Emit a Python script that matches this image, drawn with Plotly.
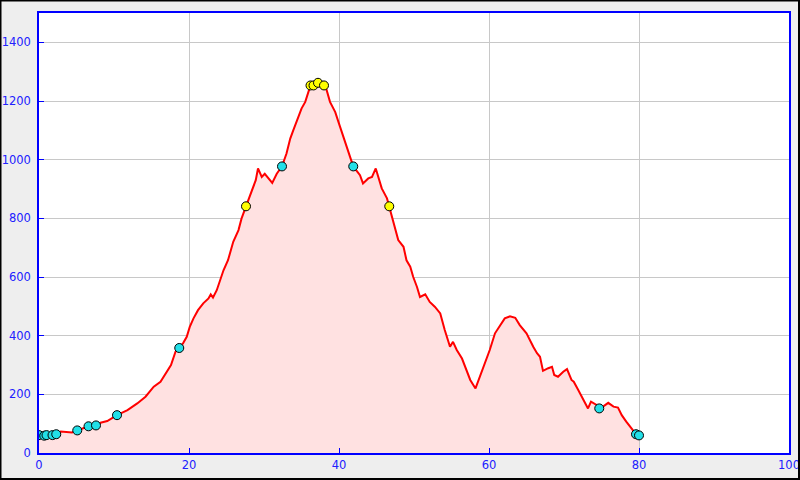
import plotly.graph_objects as go

# Elevation profile (distance km, elevation m)
dist = [0, 0.7, 1.0, 1.8, 2.3, 2.9, 4.4, 5.1, 5.8, 6.6, 7.6, 8.2, 9.1, 10.4, 11.8, 13.1, 14.2, 14.7,
        15.3, 16.2, 16.9, 17.6, 18.2, 18.7, 19.2, 19.7, 20.1, 20.6, 21.2, 21.9, 22.6, 22.9, 23.2, 23.7,
        24.1, 24.6, 25.2, 25.9, 26.6, 27.0, 27.6, 28.1, 28.6, 28.9, 29.2, 29.7, 30.1, 30.6, 31.1, 31.7,
        32.4, 33.0, 33.5, 33.9, 34.4, 35.0, 35.5, 35.9, 36.2, 36.6, 37.2, 38.0, 38.3, 38.8, 39.5, 40.0,
        40.6, 41.2, 41.9, 42.8, 43.2, 43.9, 44.4, 44.9, 45.2, 45.7, 46.4, 46.7, 47.2, 47.9, 48.6, 49.0,
        49.5, 49.9, 50.4, 50.8, 51.5, 52.1, 52.8, 53.5, 54.1, 54.8, 55.2, 55.7, 56.4, 57.0, 57.5, 58.2,
        58.8, 59.5, 60.1, 60.8, 61.5, 62.1, 62.8, 63.5, 64.1, 65.0, 65.9, 66.4, 66.8, 67.2, 67.9, 68.4,
        68.7, 69.2, 69.9, 70.4, 71.0, 71.3, 71.9, 72.6, 73.2, 73.6, 74.4, 74.7, 75.2, 75.9, 76.6, 77.2,
        77.7, 78.3, 79.0, 79.6, 80.0]
elev = [59, 59, 61, 61, 64, 73, 70, 77, 84, 91, 94, 103, 109, 129, 146, 169, 192, 209,
        226, 243, 271, 300, 345, 358, 374, 396, 430, 459, 487, 510, 527, 541, 530, 555,
        589, 623, 657, 720, 760, 799, 841, 873, 907, 930, 970, 941, 952, 936, 921, 952,
        977, 1021, 1072, 1100, 1134, 1174, 1197, 1231, 1253, 1255, 1262, 1253, 1242, 1197, 1162, 1123,
        1077, 1032, 977, 947, 919, 936, 941, 970, 941, 902, 868, 841, 794, 726, 703, 657,
        635, 600, 566, 532, 541, 515, 498, 476, 419, 362, 379, 351, 322, 283, 249, 220,
        260, 311, 351, 408, 436, 459, 466, 461, 436, 408, 362, 340, 328, 280, 289, 294,
        266, 260, 277, 286, 249, 243, 215, 181, 152, 175, 163, 152, 158, 171, 158, 155,
        129, 107, 84, 64, 60]

# Waypoint markers
cyan_dist = [0, 0.7, 1.0, 1.8, 2.3, 5.1, 6.6, 7.6, 10.4, 18.7, 32.4, 41.9, 74.7, 79.6, 80.0]
cyan_elev = [61, 59, 61, 61, 64, 77, 91, 94, 129, 358, 977, 977, 152, 64, 60]
yellow_dist = [27.6, 36.2, 36.6, 37.2, 38.0, 46.7]
yellow_elev = [841, 1253, 1253, 1262, 1253, 841]

x_ticks = [0, 20, 40, 60, 80, 100]
y_ticks = [0, 200, 400, 600, 800, 1000, 1200, 1400]

fig = go.Figure()
fig.add_trace(go.Scatter(x=dist, y=elev, mode="lines", fill="tozeroy",
                         fillcolor="#ffe1e1", line=dict(color="#ff0000", width=2),
                         hoverinfo="skip", showlegend=False))
fig.add_trace(go.Scatter(x=cyan_dist, y=cyan_elev, mode="markers",
                         marker=dict(color="#22e0e8", size=9, line=dict(color="black", width=1)),
                         showlegend=False))
fig.add_trace(go.Scatter(x=yellow_dist, y=yellow_elev, mode="markers",
                         marker=dict(color="#ffff00", size=9, line=dict(color="black", width=1)),
                         showlegend=False))

axis_common = dict(showline=True, linecolor="#0000ff", linewidth=1.5, mirror=True,
                   ticks="inside", ticklen=5, tickcolor="#0000ff", tickwidth=1,
                   showgrid=True, gridcolor="#c8c8c8", gridwidth=1, zeroline=False,
                   automargin=False,
                   tickfont=dict(family="DejaVu Sans", size=11.5, color="#2020ff"))

fig.update_xaxes(range=[0, 100], tickvals=x_ticks, **axis_common)
fig.update_yaxes(range=[0, 1500], tickvals=y_ticks, ticklabelstandoff=4, **axis_common)

fig.update_layout(
    width=800, height=480,
    margin=dict(l=39, r=11, t=13, b=27, autoexpand=False),
    paper_bgcolor="#eeeeee", plot_bgcolor="white",
    showlegend=False,
    shapes=[dict(type="rect", xref="paper", yref="paper",
                 x0=-38.5 / 750, x1=1 + 10 / 750, y0=-26 / 440, y1=1 + 12.5 / 440,
                 line=dict(color="black", width=2), layer="above")],
)

fig.write_html("out.html", config={"displayModeBar": False},
               post_script="document.body.style.margin='0';document.body.style.overflow='hidden';")
